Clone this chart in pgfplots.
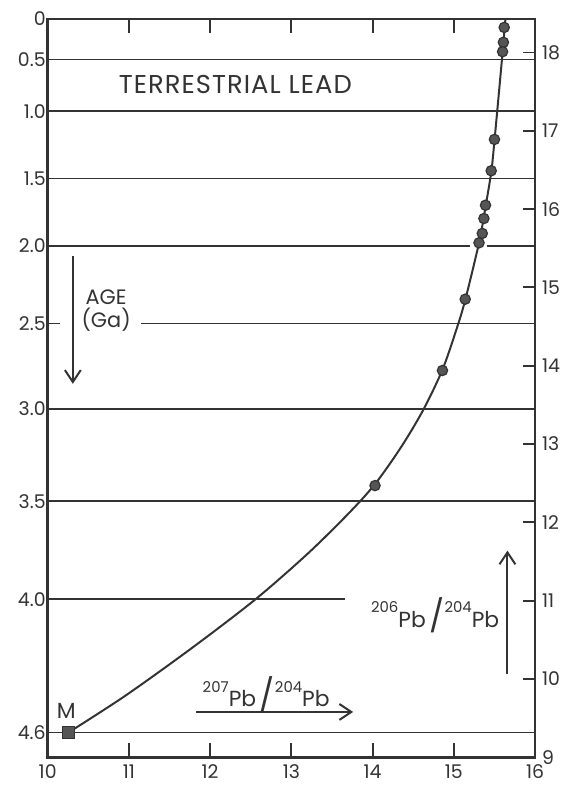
\documentclass[border=0pt]{standalone}
\usepackage{fontspec}
\setmainfont{Poppins}
\usepackage{pgfplots}
\pgfplotsset{compat=1.18}
\usetikzlibrary{arrows.meta}
\definecolor{ink}{HTML}{333333}
\definecolor{dot}{HTML}{555555}

% isotope ratio label: ^{a}Pb / ^{b}Pb
\newcommand{\iso}[1]{\raisebox{7.5pt}{\fontsize{7.5}{8}\selectfont #1}Pb}
\newcommand{\ratio}[2]{{\fontsize{11}{12}\selectfont\iso{#1}\,{\fontsize{16}{16}\selectfont/}\iso{#2}}}

\begin{document}
\begin{tikzpicture}[font=\fontsize{9.5}{11}\selectfont, color=ink]
\begin{axis}[
  scale only axis, width=245.5pt, height=372pt,
  xmin=10, xmax=16, ymin=9, ymax=18.43,
  axis line style={line width=1.3pt, ink},
  xtick={10,...,16},
  xtick style={line width=1pt, ink},
  ytick={9.32,11.02,12.27,13.45,14.54,15.53,16.39,17.25,17.91,18.43},
  yticklabels={4.6,4.0,3.5,3.0,2.5,2.0,1.5,1.0,0.5,0},
  ytick style={draw=none},
  tick align=inside, major tick length=7pt,
  xticklabel style={font=\fontsize{9.5}{11}\selectfont},
  yticklabel style={font=\fontsize{9.5}{11}\selectfont, xshift=2.5pt},
  /pgf/number format/assume math mode=true,
  clip=false,
]
% age lines
\draw[line width=0.8pt] (axis cs:10,17.91) -- (axis cs:16,17.91);
\draw[line width=0.8pt] (axis cs:10,17.25) -- (axis cs:16,17.25);
\draw[line width=0.8pt] (axis cs:10,16.39) -- (axis cs:16,16.39);
\draw[line width=0.8pt] (axis cs:10,15.53) -- (axis cs:15.20,15.53);
\draw[line width=0.8pt] (axis cs:15.41,15.53) -- (axis cs:16,15.53);
\draw[line width=0.8pt] (axis cs:10,14.54) -- (axis cs:10.15,14.54);
\draw[line width=0.8pt] (axis cs:11.15,14.54) -- (axis cs:16,14.54);
\draw[line width=0.8pt] (axis cs:10,13.45) -- (axis cs:16,13.45);
\draw[line width=0.8pt] (axis cs:10,12.27) -- (axis cs:16,12.27);
\draw[line width=0.8pt] (axis cs:10,11.02) -- (axis cs:13.66,11.02);
\draw[line width=0.8pt] (axis cs:10,9.32) -- (axis cs:16,9.32);

% growth curve
\addplot[ink, line width=1pt, smooth, tension=0.5] coordinates {
  (10.26,9.32)(10.96,9.79)(11.78,10.40)(12.56,11.02)(13.20,11.60)
  (13.70,12.11)(14.03,12.49)(14.35,12.96)(14.62,13.43)(14.86,13.95)
  (15.04,14.49)(15.14,14.84)(15.31,15.57)(15.39,16.03)(15.46,16.47)
  (15.50,16.87)(15.60,18.00)(15.635,18.43)
};

% measured leads
\addplot[only marks, mark=*, mark size=2.6pt,
  mark options={fill=dot, draw=ink, line width=0.6pt}] coordinates {
  (15.62,18.32)(15.61,18.13)(15.60,18.01)(15.50,16.89)(15.46,16.49)
  (15.39,16.05)(15.37,15.88)(15.35,15.69)(15.31,15.57)(15.14,14.85)
  (14.86,13.94)(14.03,12.47)
};
% meteorite M
\addplot[only marks, mark=square*, mark size=3pt,
  mark options={fill=dot, draw=ink, line width=0.6pt}] coordinates {(10.26,9.32)};

% labels
\node at (axis cs:12.31,17.59) {\fontsize{13}{15}\selectfont\addfontfeatures{LetterSpace=4}TERRESTRIAL LEAD};
\node[align=center, font=\fontsize{10.5}{11.5}\selectfont] at (axis cs:10.72,14.70) {AGE\\(Ga)};
\draw[-{Straight Barb[length=6pt,width=8pt]}, line width=1pt] (axis cs:10.31,15.40) -- (axis cs:10.31,13.77);
\node[font=\fontsize{11}{12}\selectfont] at (axis cs:10.23,9.59) {M};
\node at (axis cs:12.69,9.80) {\ratio{207}{204}};
\draw[-{Straight Barb[length=6pt,width=8pt]}, line width=1pt] (axis cs:11.82,9.58) -- (axis cs:13.76,9.58);
\node at (axis cs:14.77,10.82) {\ratio{206}{204}};
\draw[-{Straight Barb[length=6pt,width=8pt]}, line width=1pt] (axis cs:15.66,10.06) -- (axis cs:15.66,11.64);

\path (rel axis cs:-0.0978,-0.0296) rectangle (rel axis cs:1.059,1.0255);
\end{axis}
\begin{axis}[
  scale only axis, width=245.5pt, height=372pt,
  xmin=10, xmax=16, ymin=9, ymax=18.43,
  axis x line=none, axis y line*=right,
  axis line style={line width=1.3pt, ink},
  ytick={9,...,18},
  ytick style={line width=1pt, ink},
  tick align=inside, major tick length=6pt,
  yticklabel style={font=\fontsize{9.5}{11}\selectfont},
  /pgf/number format/assume math mode=true,
]
\end{axis}
\end{tikzpicture}
\end{document}
